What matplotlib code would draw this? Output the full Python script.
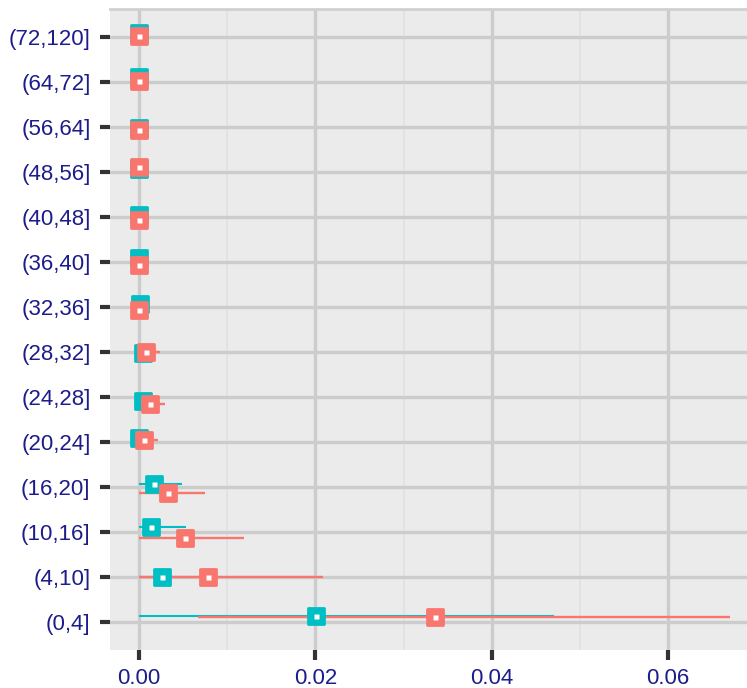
import numpy as np
import matplotlib
matplotlib.use("Agg")
import matplotlib.pyplot as plt
from matplotlib.markers import MarkerStyle

# age bands on the y axis, bottom to top
groups = ['(0,4]', '(4,10]', '(10,16]', '(16,20]', '(20,24]', '(24,28]', '(28,32]',
          '(32,36]', '(36,40]', '(40,48]', '(48,56]', '(56,64]', '(64,72]', '(72,120]']

# teal series: estimate and interval
teal_est = [0.0201, 0.00263, 0.00134, 0.00168, 0.0000, 0.0004, 0.0004,
            0.0001, 0.0, 0.0, 0.0, 0.0, 0.0, 0.0]
teal_lo = [0.0, 0.0, 0.0, 0.0, 0.0, 0.0, 0.0, 0.0, 0.0, 0.0, 0.0, 0.0, 0.0, 0.0]
teal_hi = [0.0471, 0.006, 0.00535, 0.0049, 0.0003, 0.0008, 0.0008,
           0.0002, 0.0001, 0.0001, 0.0001, 0.0001, 0.0001, 0.0001]
teal_jit = [0.145, 0.0, 0.12, 0.07, 0.10, -0.08, -0.02, 0.07, 0.09, 0.04, 0.07, -0.02, 0.11, 0.09]

# salmon series
salm_est = [0.0336, 0.00784, 0.00527, 0.0033, 0.0006, 0.0012, 0.0008,
            0.0, 0.0, 0.0, 0.0, 0.0, 0.0, 0.0]
salm_lo = [0.0067, 0.0, 0.0, 0.0, 0.0, 0.0, 0.0, 0.0, 0.0, 0.0, 0.0, 0.0, 0.0, 0.0]
salm_hi = [0.0670, 0.0209, 0.01188, 0.00746, 0.0022, 0.0030, 0.0024,
           0.0001, 0.0001, 0.0001, 0.0001, 0.0001, 0.0001, 0.0001]
salm_jit = [0.12, 0.0, -0.12, -0.13, 0.04, -0.15, 0.0, -0.06, -0.07, -0.07, 0.11, -0.05, 0.04, 0.02]

xticks = [0.0, 0.02, 0.04, 0.06]
xlabels = ['0.00', '0.02', '0.04', '0.06']

TEAL = '#00BFC4'
SALMON = '#F8766D'
LABEL = '#1c1c8a'

plt.rcParams['font.family'] = ['Liberation Sans', 'DejaVu Sans']

fig = plt.figure(figsize=(7.47, 6.88), dpi=100)
ax = fig.add_axes([110 / 747, 1 - 649.5 / 688, 1 - 110 / 747, (649.5 - 9) / 688])
ax.set_facecolor('#EBEBEB')

y = np.arange(len(groups))
ty = y + np.array(teal_jit)
sy = y + np.array(salm_jit)

# grid
for v in [0.01, 0.03, 0.05]:
    ax.axvline(v, color='#E2E2E2', lw=1.3, zorder=0)
for v in xticks:
    ax.axvline(v, color='#CCCCCC', lw=2.4, zorder=0.5)
for v in y:
    ax.axhline(v, color='#CCCCCC', lw=2.4, zorder=0.5)

# intervals first, then points
ax.hlines(ty, teal_lo, teal_hi, color=TEAL, lw=1.5, zorder=2)
ax.hlines(sy, salm_lo, salm_hi, color=SALMON, lw=1.7, zorder=2.1)

sq = MarkerStyle('s', joinstyle='round')
ax.plot(teal_est, ty, ls='none', marker=sq, ms=11.5, mfc=TEAL, mec=TEAL, mew=2, zorder=3)
ax.plot(teal_est, ty, ls='none', marker='s', ms=3.6, mfc='white', mec='none', zorder=3.1)
ax.plot(salm_est, sy, ls='none', marker=sq, ms=11.5, mfc=SALMON, mec=SALMON, mew=2, zorder=3.2)
ax.plot(salm_est, sy, ls='none', marker='s', ms=3.6, mfc='white', mec='none', zorder=3.3)

ax.set_xlim(-0.00329, 0.06895)
ax.set_ylim(-0.61, 13.63)
ax.set_yticks(y)
ax.set_yticklabels(groups)
ax.set_xticks(xticks)
ax.set_xticklabels(xlabels)

ax.tick_params(axis='both', length=7, width=3, color='#333333', labelsize=16, labelcolor=LABEL)
ax.tick_params(axis='y', pad=7)
ax.tick_params(axis='x', pad=6)

for s in ['left', 'right', 'bottom']:
    ax.spines[s].set_visible(False)
ax.spines['top'].set_color('#D0D0D0')
ax.spines['top'].set_linewidth(2)

fig.savefig('out.png', dpi=100)
